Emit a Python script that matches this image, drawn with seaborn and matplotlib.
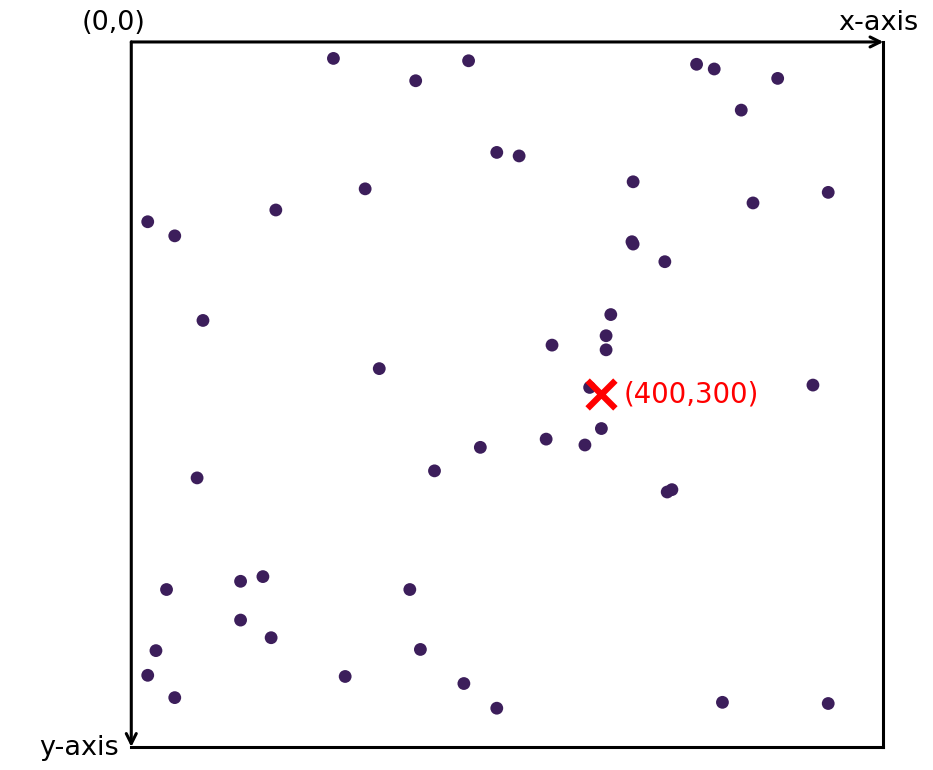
import seaborn as sns
import matplotlib.pyplot as plt
import pandas as pd

# point positions (origin top-left, y grows downward)
x_vals = [172, 242, 287, 481, 496, 550, 519, 311, 330, 427,
          199, 593, 529, 123, 14, 37, 426, 427, 454, 61,
          408, 404, 404, 358, 211, 390, 580, 400, 353, 386,
          297, 258, 56, 456, 460, 30, 93, 112, 237, 93,
          119, 21, 246, 14, 182, 283, 37, 311, 503, 593]
y_vals = [14, 33, 16, 19, 23, 31, 58, 94, 97, 119,
          125, 128, 137, 143, 153, 165, 170, 172, 187, 237,
          232, 250, 262, 258, 278, 294, 292, 329, 338, 343,
          345, 365, 371, 383, 381, 466, 459, 455, 466, 492,
          507, 518, 517, 539, 540, 546, 558, 567, 562, 563]

width, height = 640, 600
target = (400, 300)
target_label = "(400,300)"

df = pd.DataFrame({"x": x_vals, "y": y_vals})

sns.set_style("white")
plt.rcParams['font.family'] = ['DejaVu Sans']
plt.rcParams['text.color'] = 'black'

fig = plt.figure(figsize=(9.33, 7.70), dpi=100)
ax = fig.add_axes([0.1407, 0.0299, 0.8062, 0.9156])

sns.scatterplot(data=df, x="x", y="y", color="#3c1e5b", s=85,
                edgecolor="none", ax=ax, zorder=3)
sns.scatterplot(x=[target[0]], y=[target[1]], marker="x", color="red",
                s=400, linewidth=4.5, ax=ax, zorder=4)

ax.set_xlim(0, width)
ax.set_ylim(height, 0)
ax.set_xticks([])
ax.set_yticks([])
ax.set_xlabel("")
ax.set_ylabel("")

for side in ["top", "left"]:
    ax.spines[side].set_visible(False)
for side in ["right", "bottom"]:
    ax.spines[side].set_visible(True)
    ax.spines[side].set_linewidth(2.2)
    ax.spines[side].set_color("black")

arrow = dict(arrowstyle="->", lw=2.2, color="black", mutation_scale=18,
             shrinkA=0, shrinkB=0)
ax.annotate("", xy=(width, 0), xytext=(0, 0), arrowprops=arrow)
ax.annotate("", xy=(0, height), xytext=(0, 0), arrowprops=arrow)

ax.annotate("(0,0)", xy=(0, 0), xytext=(-12.5, 14), textcoords="offset points",
            ha="center", va="center", fontsize=19.5, color="black")
ax.annotate("x-axis", xy=(width, 0), xytext=(-4, 14), textcoords="offset points",
            ha="center", va="center", fontsize=19.5, color="black")
ax.annotate("y-axis", xy=(0, height), xytext=(-8.5, -1), textcoords="offset points",
            ha="right", va="center", fontsize=19.5, color="black")
ax.annotate(target_label, xy=target, xytext=(16, 0), textcoords="offset points",
            ha="left", va="center", fontsize=19.8, color="red")

fig.savefig("out.png", dpi=100)
